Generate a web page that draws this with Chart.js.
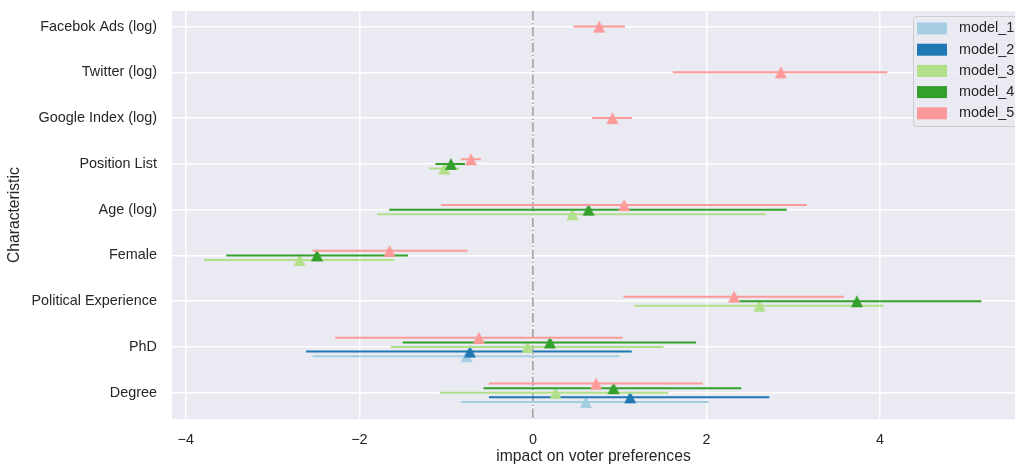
<!DOCTYPE html>
<html>
<head>
<meta charset="utf-8">
<script src="https://cdn.jsdelivr.net/npm/chart.js"></script>
<style>
  html, body { margin: 0; padding: 0; background: #ffffff; }
  canvas { display: block; }
</style>
</head>
<body>
<canvas id="chart" width="1015" height="466"></canvas>
<script>
// categories, bottom of the y axis first
const categories = ['Degree', 'PhD', 'Political Experience', 'Female', 'Age (log)',
                    'Position List', 'Google Index (log)', 'Twitter (log)', 'Facebok Ads (log)'];
const models = ['model_1', 'model_2', 'model_3', 'model_4', 'model_5'];
const xTicks = [-4, -2, 0, 2, 4];

// [coef, lower, upper] per category, null when the model has no such variable
const model_1 = [[0.611, -0.83, 2.023], [-0.765, -2.539, 0.998], null, null, null, null, null, null, null];
const model_2 = [[1.121, -0.507, 2.726], [-0.726, -2.615, 1.14], null, null, null, null, null, null, null];
const model_3 = [[0.26, -1.071, 1.562], [-0.062, -1.64, 1.505], [2.611, 1.17, 4.039],
                 [-2.689, -3.79, -1.598], [0.456, -1.794, 2.684], [-1.022, -1.198, -0.846],
                 null, null, null];
const model_4 = [[0.929, -0.569, 2.403], [0.196, -1.502, 1.881], [3.733, 2.38, 5.168],
                 [-2.488, -3.533, -1.44], [0.641, -1.656, 2.926], [-0.945, -1.122, -0.783],
                 null, null, null];
const model_5 = [[0.729, -0.507, 1.958], [-0.622, -2.278, 1.032], [2.319, 1.044, 3.583],
                 [-1.652, -2.539, -0.753], [1.052, -1.06, 3.157], [-0.714, -0.83, -0.599],
                 [0.917, 0.683, 1.14], [2.857, 1.613, 4.085], [0.764, 0.468, 1.06]];

const modelData = [model_1, model_2, model_3, model_4, model_5];
const modelColors = ['#a6cee3', '#1f78b4', '#b2df8a', '#33a02c', '#fb9a99'];
const textColor = '#262626';
const fontFamily = '"Liberation Sans", Arial, sans-serif';
const tickSize = 14.4;
const labelSize = 15.7;

// models are spread around the category line, centred on the ones present
function offsetFor(m, c) {
    const present = modelData.map((d, i) => d[c] ? i : -1).filter(i => i >= 0);
    return (present.indexOf(m) - (present.length - 1) / 2) * 0.1;
}

// matplotlib style '^' marker: as tall as it is wide, centred on its box
function triangleMarker(color) {
    const c = document.createElement('canvas');
    c.width = 14;
    c.height = 14;
    const g = c.getContext('2d');
    g.fillStyle = color;
    g.beginPath();
    g.moveTo(7, 1);
    g.lineTo(13, 13);
    g.lineTo(1, 13);
    g.closePath();
    g.fill();
    return c;
}

var datasets = [];
modelData.forEach(function (rows, m) {
    var bars = [];
    var points = [];
    rows.forEach(function (r, c) {
        if (!r) return;
        var y = c + offsetFor(m, c);
        bars.push({x: r[1], y: y}, {x: r[2], y: y}, {x: null, y: null});
        points.push({x: r[0], y: y});
    });
    datasets.push({
        label: models[m],
        data: bars,
        showLine: true,
        spanGaps: false,
        borderColor: modelColors[m],
        borderWidth: 2,
        pointRadius: 0,
        order: (4 - m) * 2 + 1
    });
    datasets.push({
        label: models[m] + ' coef',
        data: points,
        pointStyle: triangleMarker(modelColors[m]),
        pointRadius: 7,
        backgroundColor: modelColors[m],
        borderWidth: 0,
        order: (4 - m) * 2
    });
});

// grey plot background
const plotBackground = {
    id: 'plotBackground',
    beforeDraw(chart) {
        const {ctx, chartArea} = chart;
        ctx.save();
        ctx.fillStyle = '#ffffff';
        ctx.fillRect(0, 0, chart.width, chart.height);
        ctx.fillStyle = '#eaeaf2';
        ctx.fillRect(chartArea.left, chartArea.top, chartArea.right - chartArea.left, chartArea.bottom - chartArea.top);
        ctx.restore();
    }
};

// dash-dot line at zero
const zeroLine = {
    id: 'zeroLine',
    beforeDatasetsDraw(chart) {
        const {ctx, chartArea, scales} = chart;
        const x = scales.x.getPixelForValue(0);
        ctx.save();
        ctx.strokeStyle = '#999999';
        ctx.lineWidth = 1.5;
        ctx.setLineDash([9.6, 2.4, 1.5, 2.4]);
        ctx.beginPath();
        ctx.moveTo(x, chartArea.top);
        ctx.lineTo(x, chartArea.bottom);
        ctx.stroke();
        ctx.restore();
    }
};

// legend box in the top right corner
const legendBox = {
    id: 'legendBox',
    afterDraw(chart) {
        const {ctx, chartArea} = chart;
        const left = chartArea.right - 102;
        const top = chartArea.top + 5;
        ctx.save();
        ctx.fillStyle = 'rgba(234, 234, 242, 0.8)';
        ctx.strokeStyle = '#cccccc';
        ctx.lineWidth = 1;
        ctx.beginPath();
        ctx.roundRect(left + 0.5, top + 0.5, 110, 110, 3);
        ctx.fill();
        ctx.stroke();
        ctx.font = tickSize + 'px ' + fontFamily;
        ctx.textBaseline = 'middle';
        models.forEach(function (name, i) {
            const cy = top + 12.5 + i * 21.2;
            ctx.fillStyle = modelColors[i];
            ctx.fillRect(left + 4, cy - 6, 30, 12);
            ctx.fillStyle = textColor;
            ctx.fillText(name, left + 46, cy);
        });
        ctx.restore();
    }
};

function noPadding(s) {
    s.paddingTop = 0;
    s.paddingBottom = 0;
    s.paddingLeft = 0;
    s.paddingRight = 0;
}

var ctx = document.getElementById('chart').getContext('2d');

var chart = new Chart(ctx, {
    type: 'scatter',
    data: {datasets: datasets},
    plugins: [plotBackground, zeroLine, legendBox],
    options: {
        responsive: false,
        animation: false,
        devicePixelRatio: 1,
        layout: {autoPadding: false, padding: {top: 11, right: 0, bottom: 0, left: 0}},
        plugins: {
            legend: {display: false},
            tooltip: {enabled: false}
        },
        scales: {
            x: {
                type: 'linear',
                min: -4.159,
                max: 5.556,
                afterBuildTicks: function (s) {
                    s.ticks = xTicks.map(v => ({value: v}));
                },
                afterFit: function (s) { s.height = 46.7; noPadding(s); },
                ticks: {
                    autoSkip: false,
                    maxRotation: 0,
                    padding: 12,
                    color: textColor,
                    font: {family: fontFamily, size: tickSize},
                    callback: v => v < 0 ? '\u2212' + Math.abs(v) : String(v)
                },
                grid: {color: '#ffffff', lineWidth: 1.5, drawTicks: false},
                border: {display: false},
                title: {
                    display: true,
                    text: 'impact on voter preferences',
                    color: textColor,
                    font: {family: fontFamily, size: labelSize},
                    padding: {top: 0, bottom: 0}
                }
            },
            y: {
                type: 'linear',
                min: -0.58,
                max: 8.34,
                afterBuildTicks: function (s) {
                    s.ticks = categories.map((c, i) => ({value: i}));
                },
                afterFit: function (s) { s.width = 172; noPadding(s); },
                ticks: {
                    autoSkip: false,
                    padding: 15,
                    color: textColor,
                    font: {family: fontFamily, size: tickSize},
                    callback: v => categories[v]
                },
                grid: {color: '#ffffff', lineWidth: 1.5, drawTicks: false},
                border: {display: false},
                title: {
                    display: true,
                    text: 'Characteristic',
                    color: textColor,
                    font: {family: fontFamily, size: labelSize},
                    padding: {top: 5.6, bottom: 0}
                }
            }
        }
    }
});
</script>
</body>
</html>
